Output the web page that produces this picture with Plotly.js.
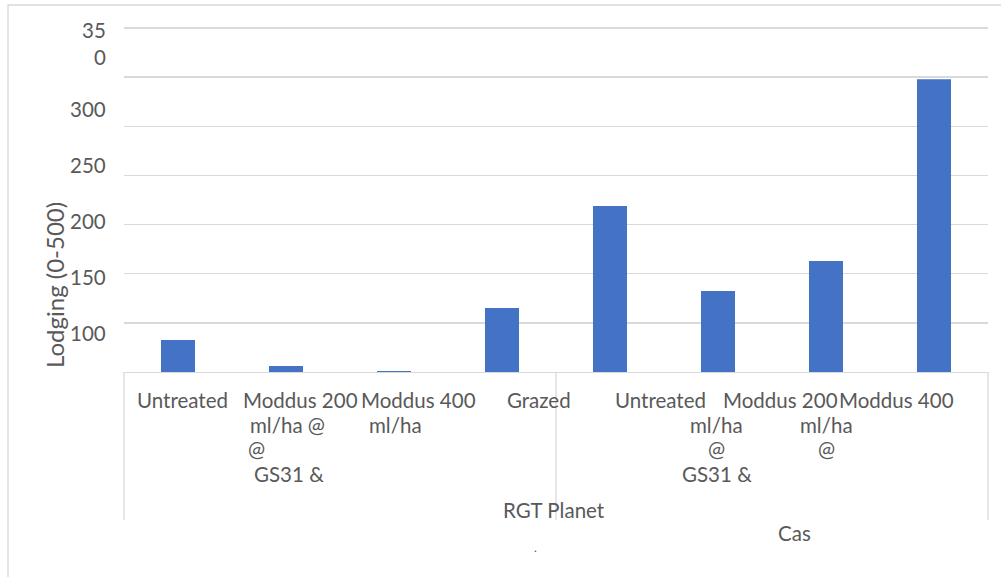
<!DOCTYPE html>
<html>
<head>
<meta charset="utf-8">
<script src="https://cdn.plot.ly/plotly-3.0.1.min.js"></script>
<style>html,body{margin:0;padding:0;background:#fff;}#chart{width:1001px;height:577px;}</style>
</head>
<body>
<div id="chart"></div>
<script>
// ---- data ----
const groups = ["RGT Planet", "Cas"];
const groupOf = [0, 0, 0, 0, 1, 1, 1, 1];
const treatments = [
  "Untreated",
  "Moddus 200 ml/ha @ GS31 &",
  "Moddus 400 ml/ha",
  "Grazed",
  "Untreated",
  "Moddus 200 ml/ha @ GS31 &",
  "Moddus 200 ml/ha @",
  "Moddus 400"
];
const lodging = [82.6, 56.1, 51.0, 115.1, 218.9, 132.4, 162.9, 347.8];
// visible (wrapped) category label lines, as printed in the reference
const labelLines = [
  ["Untreated"],
  ["Moddus 200", "ml/ha @", "@", "GS31 &"],
  ["Moddus 400", "ml/ha"],
  ["Grazed"],
  ["Untreated"],
  ["", "ml/ha", "@", "GS31 &"],
  ["Moddus 200", "ml/ha", "@"],
  ["Moddus 400"]
];
// printed value-axis labels (they sit off the gridlines in the reference)
const yTickVals = [100, 150, 200, 250, 300, 350];
const yTickText = ["100", "150", "200", "250", "300", "35<br>0"];
const yTitle = "Lodging (0-500)";

// ---- layout helpers (positions only) ----
const lineShift = [
  [4],
  [14, 1, -29.5, 2.5],
  [24, 1.5],
  [37],
  [50],
  [0, -1.5, -2, -1.5],
  [-45.6, 0, 0],
  [-38]
];
const M = {l: 124, r: 13, t: 26, b: 205};
const W = 1001, H = 577;
const PW = W - M.l - M.r, PH = H - M.t - M.b;
const px2x = p => (p - M.l) / PW;
const py2y = p => (H - M.b - p) / PH;
const rowY = [400, 424.5, 449, 473.5];
const groupPos = [[553.5, 510], [794.5, 532.5]];
// label scale of the printed tick labels: 300 at 109 px, 1.12 px per unit
const labelPy = v => 109 - (v - 300) * 1.12;
const labelExtraShift = [0, 0, 0, 0, 0, -10];

const cats = treatments.map((t, i) => groups[groupOf[i]] + " | " + t);

const FONT = "Lato, 'Open Sans', sans-serif";
const FS = 20.5;
const GREY = "#595959";
const LINE = "#d9d9d9";

const annotations = [];
labelLines.forEach((lines, i) => {
  lines.forEach((txt, r) => {
    if (!txt) return;
    annotations.push({
      xref: "x", yref: "paper", x: cats[i], y: py2y(rowY[r]),
      xshift: lineShift[i][r], xanchor: "center", yanchor: "middle",
      text: txt, showarrow: false, font: {family: FONT, size: FS, color: GREY}
    });
  });
});
groups.forEach((g, k) => {
  annotations.push({
    xref: "paper", yref: "paper", x: px2x(groupPos[k][0]), y: py2y(groupPos[k][1]),
    xanchor: "center", yanchor: "middle", text: g, showarrow: false,
    font: {family: FONT, size: FS, color: GREY}
  });
});
yTickVals.forEach((v, i) => {
  annotations.push({
    xref: "paper", yref: "paper", x: px2x(108), y: py2y(labelPy(v) + labelExtraShift[i]),
    xanchor: "right", yanchor: "middle", align: "right", text: yTickText[i], showarrow: false,
    font: {family: FONT, size: FS, color: GREY}
  });
});
annotations.push({
  xref: "paper", yref: "paper", x: px2x(535), y: py2y(547),
  xanchor: "center", yanchor: "middle", text: ".", showarrow: false,
  font: {family: FONT, size: 12, color: GREY}
});
annotations.push({
  xref: "paper", yref: "paper", x: px2x(54), y: py2y(285),
  xanchor: "center", yanchor: "middle", textangle: -90, text: yTitle, showarrow: false,
  font: {family: FONT, size: 24, color: GREY}
});

const shapes = [
  // outer chart border
  {type: "rect", xref: "paper", yref: "paper", x0: px2x(8), x1: px2x(1012), y0: py2y(592), y1: py2y(5),
   line: {color: LINE, width: 1.3}, fillcolor: "rgba(0,0,0,0)"},
  // category box verticals
  {type: "line", xref: "paper", yref: "paper", x0: 0, x1: 0, y0: 0, y1: py2y(520), line: {color: LINE, width: 1.3}},
  {type: "line", xref: "paper", yref: "paper", x0: 0.5, x1: 0.5, y0: 0, y1: py2y(520), line: {color: LINE, width: 1.3}},
  {type: "line", xref: "paper", yref: "paper", x0: 1, x1: 1, y0: 0, y1: py2y(520), line: {color: LINE, width: 1.3}}
];

const data = [{
  type: "bar", x: cats, y: lodging, marker: {color: "#4472C4"},
  hoverinfo: "y", showlegend: false
}];

const layout = {
  width: W, height: H,
  margin: {l: M.l, r: M.r, t: M.t, b: M.b, pad: 0},
  paper_bgcolor: "#fff", plot_bgcolor: "#fff",
  bargap: 0.685,
  showlegend: false,
  font: {family: FONT, size: FS, color: GREY},
  xaxis: {
    type: "category", showticklabels: false, ticks: "",
    showline: true, linecolor: LINE, linewidth: 1.3, showgrid: false, zeroline: false
  },
  yaxis: {
    range: [50, 402], dtick: 50, tick0: 50, showticklabels: false, ticks: "",
    showgrid: true, gridcolor: LINE, gridwidth: 1.3, zeroline: false, showline: false
  },
  annotations: annotations,
  shapes: shapes
};

Plotly.newPlot("chart", data, layout, {staticPlot: true, displayModeBar: false});
</script>
</body>
</html>
